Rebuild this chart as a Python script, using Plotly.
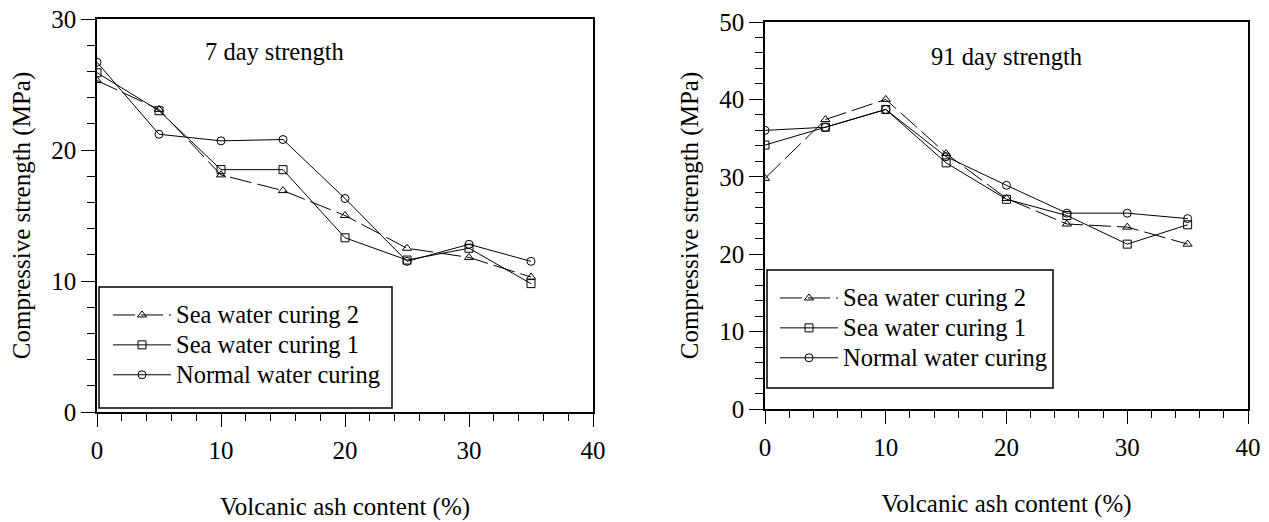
import plotly.graph_objects as go

ash = [0, 5, 10, 15, 20, 25, 30, 35]

sea2_7 = [25.3, 23.1, 18.1, 16.9, 15.0, 12.5, 11.8, 10.3]
sea1_7 = [25.9, 23.0, 18.5, 18.5, 13.3, 11.6, 12.5, 9.8]
norm_7 = [26.7, 21.2, 20.7, 20.8, 16.3, 11.5, 12.8, 11.5]

sea2_91 = [29.8, 37.4, 40.0, 33.0, 27.2, 23.9, 23.5, 21.3]
sea1_91 = [34.1, 36.4, 38.7, 31.8, 27.1, 25.0, 21.3, 23.8]
norm_91 = [36.0, 36.4, 38.7, 32.6, 28.9, 25.3, 25.3, 24.6]

names = ["Sea water curing 2", "Sea water curing 1", "Normal water curing"]
symbols = ["triangle-up-open", "square-open", "circle-open"]
dashes = ["22px,6px", "solid", "solid"]

FONT = "Liberation Serif"
FS = 25

fig = go.Figure()

def add_series(ys_list, xa, ya, legend):
    for ys, nm, sym, ds in zip(ys_list, names, symbols, dashes):
        fig.add_trace(go.Scatter(
            x=ash, y=ys, name='<span style="font-size:24.5px">' + nm + '</span>',
            mode="lines+markers",
            xaxis=xa, yaxis=ya, legend=legend,
            line=dict(color="black", width=1, dash=ds),
            marker=dict(symbol=sym, size=8, color="black", line=dict(width=1, color="black")),
        ))

add_series([sea2_7, sea1_7, norm_7], "x", "y", "legend")
add_series([sea2_91, sea1_91, norm_91], "x2", "y2", "legend2")

W, H = 1269, 522

def xaxis(domain, anchor):
    return dict(
        domain=domain, anchor=anchor, range=[0, 40], dtick=10, tick0=0, automargin=False,
        showgrid=False, zeroline=False, showline=True, linecolor="black", linewidth=1.5,
        mirror=True, ticks="outside", ticklen=13, tickwidth=1, tickcolor="black",
        minor=dict(dtick=2, ticks="outside", ticklen=7, tickwidth=1, tickcolor="black", showgrid=False),
        ticklabelstandoff=2,
        tickfont=dict(family=FONT, size=FS, color="black"),
        title=dict(text="Volcanic ash content (%)", font=dict(family=FONT, size=FS, color="black"), standoff=35),
    )

def yaxis(domain, anchor, top):
    return dict(
        domain=domain, anchor=anchor, range=[0, top], dtick=10, tick0=0, automargin=False,
        showgrid=False, zeroline=False, showline=True, linecolor="black", linewidth=1.5,
        mirror=True, ticks="outside", ticklen=14, tickwidth=1, tickcolor="black",
        minor=dict(dtick=2, ticks="outside", ticklen=8, tickwidth=1, tickcolor="black", showgrid=False),
        ticklabelstandoff=0,
        tickfont=dict(family=FONT, size=FS, color="black"),
        title=dict(text="Compressive strength (MPa)", font=dict(family=FONT, size=FS, color="black"), standoff=14),
    )

legend_style = dict(
    bgcolor="rgba(0,0,0,0)", borderwidth=0,
    font=dict(family=FONT, size=20.7, color="black"),
    xanchor="left", yanchor="top", itemwidth=58, tracegroupgap=0,
)

def legend_box(x0, y0, x1, y1):
    return dict(type="rect", xref="paper", yref="paper",
                x0=x0 / W, x1=x1 / W, y0=1 - y1 / H, y1=1 - y0 / H,
                line=dict(color="black", width=1.5), fillcolor="white", layer="below")

fig.update_layout(
    width=W, height=H,
    margin=dict(l=0, r=0, t=0, b=0),
    paper_bgcolor="white", plot_bgcolor="rgba(0,0,0,0)",
    font=dict(family=FONT, color="black"),
    xaxis=xaxis([97 / W, 593 / W], "y"),
    yaxis=yaxis([1 - 412 / H, 1 - 19 / H], "x", 30),
    xaxis2=xaxis([765 / W, 1248 / W], "y2"),
    yaxis2=yaxis([1 - 409 / H, 1 - 22 / H], "x2", 50),
    legend=dict(x=108 / W, y=1 - 295 / H, **legend_style),
    legend2=dict(x=775 / W, y=1 - 278 / H, **legend_style),
    shapes=[legend_box(99, 287, 392, 408), legend_box(767, 270, 1053, 388)],
    annotations=[
        dict(text="7 day strength", x=14.3, y=27.5, xref="x", yref="y", showarrow=False,
             font=dict(family=FONT, size=24.5, color="black")),
        dict(text="91 day strength", x=20.0, y=45.5, xref="x2", yref="y2", showarrow=False,
             font=dict(family=FONT, size=24.5, color="black")),
    ],
)

fig.write_html("out.html")
